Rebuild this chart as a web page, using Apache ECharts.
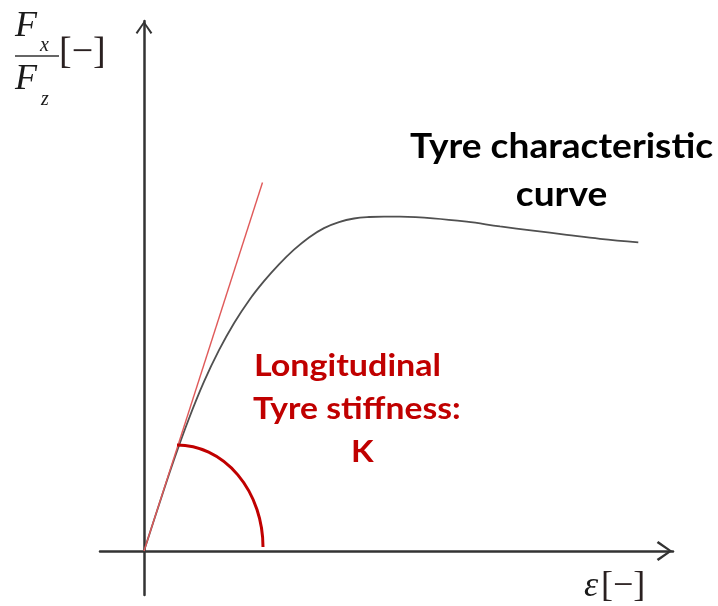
<!DOCTYPE html>
<html>
<head>
<meta charset="utf-8">
<script src="https://cdn.jsdelivr.net/npm/echarts@6/dist/echarts.min.js"></script>
<style>
  html, body { margin: 0; padding: 0; background: #ffffff; }
  #chart { width: 718px; height: 606px; }
</style>
</head>
<body>
<div id="chart"></div>
<script>
// Tyre characteristic: slip (horizontal) against normalised longitudinal force Fx/Fz (vertical), arbitrary units
const slip = [0, 15, 30, 45, 60, 75, 90, 105, 120, 135, 150, 165, 180, 195, 210, 225, 240, 256, 289, 322.7, 356, 389, 422.7, 456, 494.3];
const forceRatio = [0, 46.2, 91.2, 132.5, 169.3, 200.8, 227.8, 250.6, 269.8, 286.6, 301.3, 313.6, 322.9, 328.9, 332.5, 334, 334.4, 334.3, 332.7, 329.3, 324.6, 320.4, 316.2, 312.2, 308.7];

// Tangent at the origin (initial slope = longitudinal stiffness)
const tangentSlip = [0, 118.5];
const tangentForce = [0, 368.5];

// Quarter-ellipse marking the stiffness angle: centre and radii in axis units
const arcCentre = [33, 4];
const arcRadii = [86, 102];

// Axis extents
const slipRange = [-44, 529];
const forceRange = [-44, 530];

const AXIS_COLOR = '#333333';
const CHEVRON = 'path://M0,14 L10,0 L20,14 L18,15.6 L10,3.6 L2,15.6 Z';

const curveData = slip.map((s, i) => [s, forceRatio[i]]);
const tangentData = tangentSlip.map((s, i) => [s, tangentForce[i]]);

const chart = echarts.init(document.getElementById('chart'), null, { renderer: 'canvas' });

const serif = 'Liberation Serif, DejaVu Serif, serif';
const sans = 'Lato, Open Sans, sans-serif';

function txt(text, x, y, font, fill, align, sx) {
  return {
    type: 'text',
    x: x, y: y,
    scaleX: sx || 1,
    style: { text: text, font: font, fill: fill, align: align || 'left', verticalAlign: 'middle' },
    z: 10
  };
}

chart.setOption({
  animation: false,
  backgroundColor: '#ffffff',
  grid: { left: 100, top: 21, width: 573, height: 574, containLabel: false },
  xAxis: {
    type: 'value',
    min: slipRange[0], max: slipRange[1],
    axisLine: {
      show: true, onZero: true,
      lineStyle: { color: AXIS_COLOR, width: 2.5 },
      symbol: ['none', CHEVRON],
      symbolSize: [20, 17],
      symbolOffset: [0, -8.5]
    },
    axisTick: { show: false },
    axisLabel: { show: false },
    splitLine: { show: false }
  },
  yAxis: {
    type: 'value',
    min: forceRange[0], max: forceRange[1],
    axisLine: {
      show: true, onZero: true,
      lineStyle: { color: AXIS_COLOR, width: 2.5 },
      symbol: ['none', CHEVRON],
      symbolSize: [20, 13],
      symbolOffset: [0, -6.5]
    },
    axisTick: { show: false },
    axisLabel: { show: false },
    splitLine: { show: false }
  },
  series: [
    {
      name: 'Tyre characteristic curve',
      type: 'line',
      data: curveData,
      smooth: 0.4,
      showSymbol: false,
      lineStyle: { color: '#505050', width: 1.8 },
      z: 3
    },
    {
      name: 'Tangent',
      type: 'line',
      data: tangentData,
      showSymbol: false,
      lineStyle: { color: '#e05a5a', width: 1.4 },
      z: 4
    },
    {
      name: 'Stiffness arc',
      type: 'custom',
      data: [[arcCentre[0], arcCentre[1], arcRadii[0], arcRadii[1]]],
      renderItem: function (params, api) {
        const c = api.coord([api.value(0), api.value(1)]);
        const s = api.size([api.value(2), api.value(3)]);
        return {
          type: 'path',
          shape: {
            pathData: 'M0 0 A1 1 0 0 1 1 1',
            x: c[0], y: c[1] - s[1], width: s[0], height: s[1],
            layout: 'cover'
          },
          style: { fill: 'none', stroke: '#c00000', lineWidth: 3 }
        };
      },
      z: 5
    }
  ],
  graphic: [
    // vertical axis label: Fx / Fz [−]
    txt('F', 15, 27, 'italic 36px ' + serif, '#1a1a1a'),
    txt('x', 40, 46, 'italic 20px ' + serif, '#1a1a1a'),
    { type: 'line', shape: { x1: 15, y1: 56, x2: 59, y2: 56 }, style: { stroke: '#333333', lineWidth: 1.5 }, z: 10 },
    txt('F', 15, 80, 'italic 36px ' + serif, '#1a1a1a'),
    txt('z', 41, 100, 'italic 20px ' + serif, '#1a1a1a'),
    txt('[\u2212]', 59, 53, '38px ' + serif, '#2a2020'),
    // horizontal axis label: ε [−]
    txt('\u03b5', 584, 587, 'italic 36px ' + serif, '#1a1a1a'),
    txt('[\u2212]', 601, 587, '36px ' + serif, '#2a2020'),
    // annotations
    txt('Tyre characteristic', 561.5, 147.5, 'bold 34px ' + sans, '#000000', 'center', 1.09),
    txt('curve', 561.5, 195.5, 'bold 34px ' + sans, '#000000', 'center', 1.09),
    txt('Longitudinal', 254, 366.5, 'bold 30px ' + sans, '#c00000', 'left', 1.135),
    txt('Tyre stiffness:', 253, 409.5, 'bold 30px ' + sans, '#c00000', 'left', 1.12),
    txt('K', 351, 452.5, 'bold 30px ' + sans, '#c00000', 'left', 1.1)
  ]
});
</script>
</body>
</html>
